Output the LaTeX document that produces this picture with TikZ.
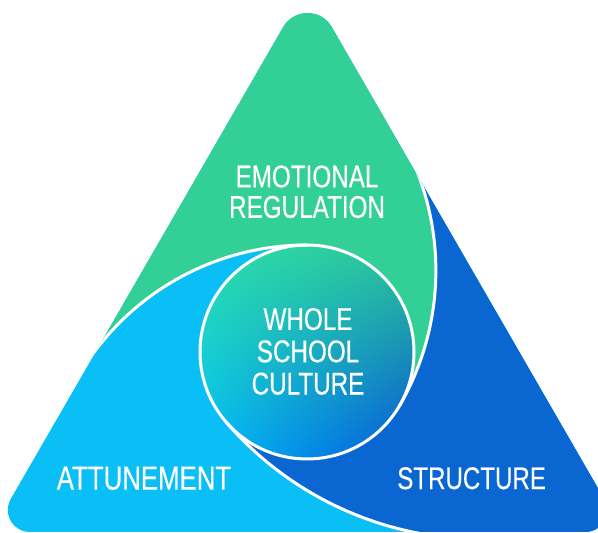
\documentclass[tikz,border=0pt]{standalone}
\usepackage{fontspec}
\newfontfamily\lblfont{Liberation Sans}[FakeStretch=0.77,FakeBold=0.35]
\usetikzlibrary{calc,shadings}
\definecolor{mint}{RGB}{50,208,150}
\definecolor{sky}{RGB}{10,190,246}
\definecolor{deepblue}{RGB}{10,103,210}
\definecolor{shUL}{RGB}{45,224,168}
\definecolor{shUR}{RGB}{44,196,150}
\definecolor{shLL}{RGB}{0,192,250}
\definecolor{shLR}{RGB}{6,84,214}
\begin{document}
\begin{tikzpicture}[x=1pt,y=1pt,
  lbl/.style={text=white, align=center, inner sep=0pt},
  sepline/.style={white, line width=3pt}]
\useasboundingbox (0,0) rectangle (598,533);
\coordinate (O) at (307,181);
\coordinate (CA) at (307,23);
\coordinate (CB) at (165.87,262.5);
\coordinate (CC) at (481.9,331.8);
\begin{scope}
  \clip (0,0) rectangle (598,533);
  \clip (283.25,506) arc[start angle=150,end angle=30,radius=28pt]
     -- (604.25,34) arc[start angle=30,end angle=-90,radius=22pt]
     -- (29.8,1) arc[start angle=270,end angle=150,radius=22pt] -- cycle;
  % light blue base
  \fill[sky] (-10,-10) rectangle (610,545);
  % green region
  \fill[mint] ($(CA)+(147:265pt)$) arc[start angle=147,end angle=90,radius=265pt]
     arc[start angle=90,end angle=-30,radius=107pt]
     arc[start angle=-30,end angle=25,radius=270pt]
     -- (700,376.6) -- (700,700) -- (-100,700) -- (-100,167.3) -- cycle;
  % dark blue region
  \fill[deepblue] (434.9,-100) -- ($(CC)+(262:338pt)$)
     arc[start angle=262,end angle=220.8,radius=338pt]
     arc[start angle=-139.2,end angle=-30,radius=107pt]
     arc[start angle=-30,end angle=25,radius=270pt]
     -- (700,376.6) -- (700,-100) -- cycle;
  % centre circle
  \shade[upper left=shUL, upper right=shUR, lower left=shLL, lower right=shLR]
     (O) circle[radius=107pt];
  % white separators
  \draw[sepline] ($(CA)+(147:265pt)$) arc[start angle=147,end angle=90,radius=265pt];
  \draw[sepline] ($(CB)+(-30:270pt)$) arc[start angle=-30,end angle=25,radius=270pt];
  \draw[sepline] ($(CC)+(220.8:338pt)$) arc[start angle=220.8,end angle=262,radius=338pt];
  \draw[sepline] (O) circle[radius=107pt];
\end{scope}
\node[lbl, font=\lblfont\fontsize{31.5}{30.5}\selectfont] (emo) at (307,341.2) {EMOTIONAL\\REGULATION};
\node[lbl, font=\lblfont\fontsize{31.5}{32.3}\selectfont] (whole) at (308,181.6) {WHOLE\\SCHOOL\\CULTURE};
\node[lbl, font=\lblfont\fontsize{33.5}{32}\selectfont] (att) at (144,54.7) {ATTUNEMENT};
\node[lbl, font=\lblfont\fontsize{31.3}{32}\selectfont] (str) at (471.6,54.7) {STRUCTURE};
\end{tikzpicture}
\end{document}
